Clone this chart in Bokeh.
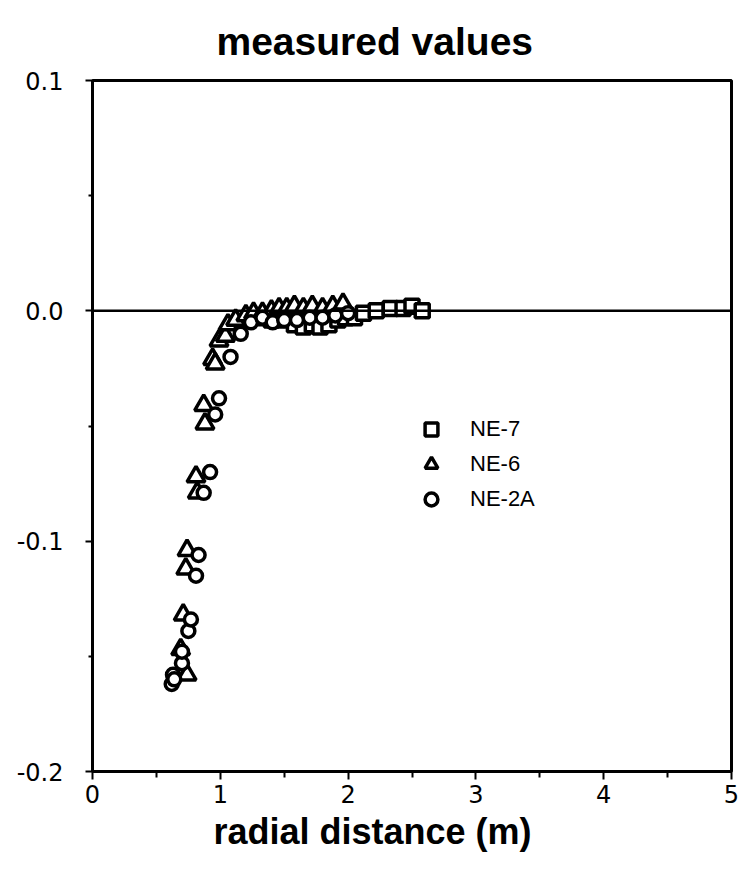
from bokeh.plotting import figure
from bokeh.models import Span, FixedTicker, Title
from bokeh.embed import file_html
from bokeh.resources import INLINE

# ---- data ----
ne7_x = [1.30, 1.40, 1.50, 1.58, 1.65, 1.72, 1.78, 1.85, 1.92, 1.98, 2.05, 2.12, 2.22, 2.33, 2.43, 2.50, 2.58]
ne7_y = [-0.003, -0.004, -0.004, -0.006, -0.007, -0.006, -0.007, -0.006, -0.004, -0.003, -0.003, -0.001, 0.000, 0.001, 0.001, 0.002, 0.000]

ne6_x = [0.74, 0.69, 0.71, 0.73, 0.74, 0.81, 0.82, 0.87, 0.88, 0.94, 0.96, 0.99, 1.04, 1.06, 1.12, 1.20, 1.26, 1.33, 1.40, 1.46, 1.52, 1.58, 1.65, 1.72, 1.80, 1.88, 1.96]
ne6_y = [-0.158, -0.147, -0.132, -0.112, -0.104, -0.072, -0.079, -0.041, -0.049, -0.021, -0.023, -0.013, -0.011, -0.006, -0.004, -0.002, -0.001, -0.001, 0.000, 0.001, 0.001, 0.002, 0.001, 0.002, 0.001, 0.002, 0.003]

ne2a_x = [0.62, 0.63, 0.64, 0.70, 0.70, 0.75, 0.77, 0.81, 0.83, 0.87, 0.92, 0.96, 0.99, 1.08, 1.16, 1.24, 1.33, 1.41, 1.50, 1.60, 1.70, 1.80, 1.90, 2.00]
ne2a_y = [-0.162, -0.158, -0.160, -0.153, -0.148, -0.139, -0.134, -0.115, -0.106, -0.079, -0.070, -0.045, -0.038, -0.020, -0.010, -0.005, -0.003, -0.005, -0.004, -0.004, -0.003, -0.003, -0.002, -0.001]

x_ticks = [0, 1, 2, 3, 4, 5]
x_minor = [0.5, 1.5, 2.5, 3.5, 4.5]
y_ticks = [-0.2, -0.1, 0.0, 0.1]
y_minor = [-0.15, -0.05, 0.05]
y_tick_labels = ["-0.2", "-0.1", "0.0", "0.1"]

title_text = "measured values"
xlabel_text = "radial distance (m)"

p = figure(width=748, height=880, output_backend="svg", toolbar_location=None,
           x_range=(0, 5), y_range=(-0.2, 0.1),
           min_border_left=92, min_border_right=17, min_border_top=80, min_border_bottom=109)
p.grid.visible = False
p.background_fill_color = "white"
p.border_fill_color = "white"
p.outline_line_color = "black"
p.outline_line_width = 3

p.title.text = ""
p.add_layout(Title(text=title_text, text_font="Liberation Sans", text_font_size="39px",
                   text_color="black", text_font_style="bold", align="left", offset=124,
                   standoff=35), "above")
p.add_layout(Title(text=xlabel_text, text_font="Liberation Sans", text_font_size="36px",
                   text_color="black", text_font_style="bold", align="left", offset=121,
                   standoff=6), "below")

tick_font = "DejaVu Sans"
for ax in (p.xaxis[0], p.yaxis[0]):
    ax.axis_line_width = 3
    ax.axis_line_color = "black"
    ax.major_tick_line_width = 2
    ax.minor_tick_line_width = 2
    ax.major_tick_in = 0
    ax.minor_tick_in = 0
    ax.major_label_text_font = tick_font
    ax.major_label_text_font_size = "24px"
    ax.major_label_text_color = "black"

p.xaxis[0].ticker = FixedTicker(ticks=x_ticks, minor_ticks=x_minor)
p.xaxis[0].major_tick_out = 8
p.xaxis[0].minor_tick_out = 6
p.xaxis[0].major_label_standoff = 5

p.yaxis[0].ticker = FixedTicker(ticks=y_ticks, minor_ticks=y_minor)
p.yaxis[0].major_label_overrides = {t: s for t, s in zip(y_ticks, y_tick_labels)}
p.yaxis[0].major_tick_out = 7
p.yaxis[0].minor_tick_out = 4
p.yaxis[0].major_label_standoff = 22

p.add_layout(Span(location=0, dimension="width", line_color="black", line_width=2.5))

common = dict(fill_color="white", line_color="black", line_width=3.5)
p.scatter(ne7_x, ne7_y, marker="square", size=14, legend_label="NE-7", **common)
p.scatter(ne6_x, ne6_y, marker="triangle", size=18, legend_label="NE-6", **common)
p.scatter(ne2a_x, ne2a_y, marker="circle", size=13, legend_label="NE-2A", **common)

lg = p.legend[0]
lg.location = (323, 256)
lg.border_line_color = None
lg.background_fill_alpha = 0
lg.label_text_font = "Liberation Sans"
lg.label_text_font_size = "22px"
lg.label_text_color = "black"
lg.glyph_width = 32
lg.glyph_height = 32
lg.label_height = 32
lg.spacing = 3
lg.label_standoff = 23

open("out.html", "w").write(file_html(p, INLINE))
